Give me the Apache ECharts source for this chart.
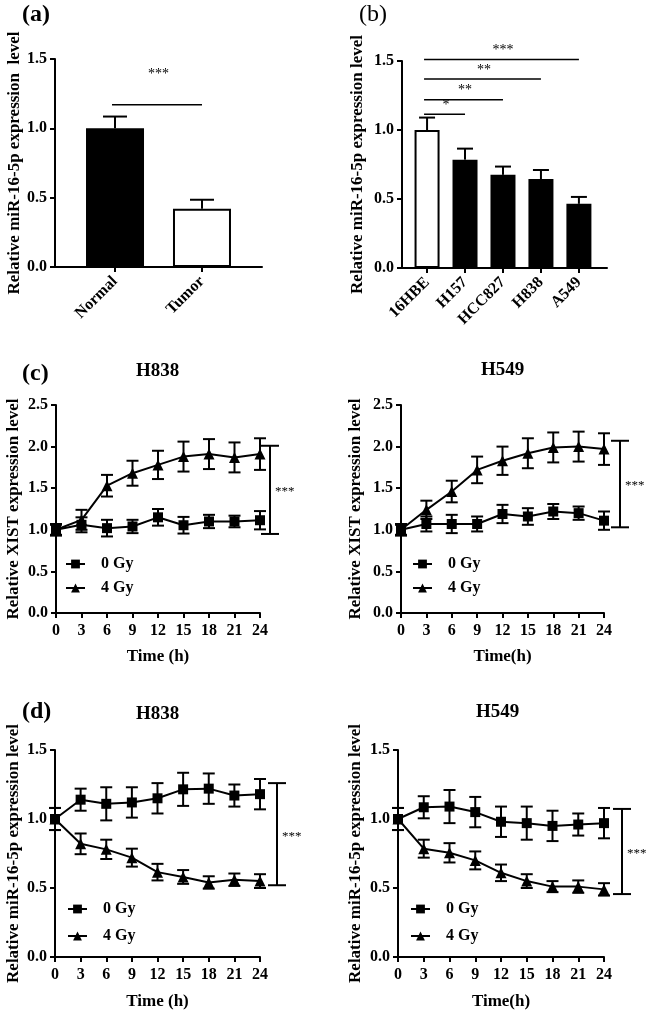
<!DOCTYPE html>
<html>
<head>
<meta charset="utf-8">
<script src="https://cdn.jsdelivr.net/npm/echarts@6/dist/echarts.min.js"></script>
<style>
html,body{margin:0;padding:0;background:#fff;}
#chart{width:650px;height:1015px;}
</style>
</head>
<body>
<div id="chart"></div>
<script>
// ---------- DATA ----------
const catsA = ['Normal', 'Tumor'];
const meanA = [1.00, 0.42];
const errA  = [0.085, 0.065];
const sigA  = [[0, 1, 1.17, 3]];          // [fromIdx, toIdx, y, stars]

const catsB = ['16HBE', 'H157', 'HCC827', 'H838', 'A549'];
const meanB = [1.00, 0.785, 0.675, 0.645, 0.465];
const errB  = [0.09, 0.08, 0.06, 0.065, 0.05];
const sigB  = [[0, 1, 1.115, 1], [0, 2, 1.22, 2], [0, 3, 1.37, 2], [0, 4, 1.51, 3]];

const hours = [0, 3, 6, 9, 12, 15, 18, 21, 24];

const xistH838_0Gy    = [1.00, 1.06, 1.02, 1.04, 1.15, 1.055, 1.10, 1.10, 1.115];
const xistH838_0GyErr = [0.07, 0.09, 0.10, 0.08, 0.10, 0.10, 0.08, 0.07, 0.11];
const xistH838_4Gy    = [1.00, 1.12, 1.53, 1.68, 1.78, 1.88, 1.91, 1.87, 1.91];
const xistH838_4GyErr = [0.06, 0.12, 0.13, 0.15, 0.17, 0.18, 0.18, 0.18, 0.19];
const xistH838_sig    = [[24, 0.95, 2.01, 3]];

const xistH549_0Gy    = [1.00, 1.07, 1.07, 1.07, 1.19, 1.16, 1.22, 1.20, 1.11];
const xistH549_0GyErr = [0.07, 0.09, 0.11, 0.09, 0.11, 0.10, 0.09, 0.08, 0.11];
const xistH549_4Gy    = [1.00, 1.24, 1.46, 1.72, 1.83, 1.92, 1.99, 2.00, 1.97];
const xistH549_4GyErr = [0.06, 0.11, 0.13, 0.16, 0.17, 0.18, 0.18, 0.18, 0.19];
const xistH549_sig    = [[24, 1.03, 2.07, 3]];

const mirH838_0Gy    = [1.00, 1.14, 1.11, 1.12, 1.15, 1.215, 1.22, 1.17, 1.18];
const mirH838_0GyErr = [0.08, 0.08, 0.12, 0.11, 0.11, 0.12, 0.11, 0.08, 0.11];
const mirH838_4Gy    = [1.00, 0.82, 0.78, 0.72, 0.615, 0.58, 0.54, 0.56, 0.55];
const mirH838_4GyErr = [0.08, 0.075, 0.07, 0.065, 0.06, 0.05, 0.045, 0.045, 0.05];
const mirH838_sig    = [[24, 0.52, 1.26, 3]];

const mirH549_0Gy    = [1.00, 1.085, 1.09, 1.05, 0.98, 0.97, 0.95, 0.96, 0.97];
const mirH549_0GyErr = [0.08, 0.08, 0.12, 0.11, 0.11, 0.12, 0.11, 0.08, 0.11];
const mirH549_4Gy    = [1.00, 0.785, 0.755, 0.70, 0.61, 0.55, 0.51, 0.51, 0.49];
const mirH549_4GyErr = [0.08, 0.065, 0.07, 0.065, 0.06, 0.05, 0.04, 0.045, 0.045];
const mirH549_sig    = [[24, 0.456, 1.073, 3]];

const yTitleMiR  = 'Relative miR-16-5p expression level';
const yTitleMiRa = 'Relative miR-16-5p expression  level';
const yTitleXIST = 'Relative XIST expression level';

// ---------- STYLE ----------
const FONT = '"Liberation Serif","Times New Roman",Times,serif';
const BLACK = '#000';
const chart = echarts.init(document.getElementById('chart'), null, {renderer: 'canvas'});

const labelStyle = {color: BLACK, fontFamily: FONT, fontWeight: 'bold', fontSize: 16};
const nameStyle = {color: BLACK, fontFamily: FONT, fontWeight: 'bold', fontSize: 17};
const lineSt = {color: BLACK, width: 2};

const grids = [
  {left: 55,  top: 59,  width: 207, height: 208},  // a
  {left: 402, top: 61,  width: 205, height: 207},  // b
  {left: 56,  top: 405, width: 204, height: 208},  // c H838
  {left: 401, top: 405, width: 203, height: 208},  // c H549
  {left: 55,  top: 750, width: 205, height: 207},  // d H838
  {left: 398, top: 750, width: 206, height: 207}   // d H549
].map(g => Object.assign({outerBoundsMode: 'none', containLabel: false}, g));

function yAxis(gi, max, name, gap) {
  return {
    type: 'value', gridIndex: gi, min: 0, max: max, interval: 0.5,
    name: name, nameLocation: 'middle', nameGap: gap, nameRotate: 90,
    nameTextStyle: nameStyle,
    axisLine: {show: true, onZero: false, lineStyle: lineSt},
    axisTick: {show: true, length: 5, lineStyle: lineSt},
    axisLabel: Object.assign({margin: 8, formatter: v => v.toFixed(1)}, labelStyle),
    splitLine: {show: false}
  };
}
function catXAxis(gi, cats, min, max) {
  const idx = cats.map((c, i) => i);
  return {
    type: 'value', gridIndex: gi, min: min, max: max,
    axisLine: {show: true, onZero: false, lineStyle: lineSt},
    axisTick: {show: true, length: 5, lineStyle: lineSt, customValues: idx},
    axisLabel: Object.assign({margin: 12, rotate: 45, customValues: idx,
      formatter: v => cats[Math.round(v)]}, labelStyle),
    splitLine: {show: false}
  };
}
function timeXAxis(gi, name, gap) {
  return {
    type: 'value', gridIndex: gi, min: 0, max: 24, interval: 3,
    name: name, nameLocation: 'middle', nameGap: gap, nameTextStyle: nameStyle,
    axisLine: {show: true, onZero: false, lineStyle: lineSt},
    axisTick: {show: true, length: 5, lineStyle: lineSt},
    axisLabel: Object.assign({margin: 10}, labelStyle),
    splitLine: {show: false}
  };
}

// error bars
function errSeries(gi, xs, mean, err, capHalf, upOnly) {
  return {
    type: 'custom', xAxisIndex: gi, yAxisIndex: gi, silent: true, z: 4,
    encode: {x: 0, y: 1},
    data: xs.map((x, k) => [x, mean[k], err[k]]),
    renderItem: function (params, api) {
      const x = api.value(0), m = api.value(1), e = api.value(2);
      const t = api.coord([x, m + e]);
      const b = api.coord([x, upOnly ? m : m - e]);
      const st = {stroke: BLACK, lineWidth: 2};
      const ch = [
        {type: 'line', shape: {x1: t[0], y1: t[1], x2: b[0], y2: b[1]}, style: st},
        {type: 'line', shape: {x1: t[0] - capHalf, y1: t[1], x2: t[0] + capHalf, y2: t[1]}, style: st}
      ];
      if (!upOnly) ch.push({type: 'line', shape: {x1: b[0] - capHalf, y1: b[1], x2: b[0] + capHalf, y2: b[1]}, style: st});
      return {type: 'group', children: ch};
    }
  };
}
// significance lines over bars
function sigSeries(gi, sig, gap) {
  return {
    type: 'custom', xAxisIndex: gi, yAxisIndex: gi, silent: true, z: 5,
    encode: {x: [0, 1], y: 2},
    data: sig,
    renderItem: function (params, api) {
      const p1 = api.coord([api.value(0), api.value(2)]);
      const p2 = api.coord([api.value(1), api.value(2)]);
      return {type: 'group', children: [
        {type: 'line', shape: {x1: p1[0] - 3, y1: p1[1], x2: p2[0], y2: p2[1]}, style: {stroke: BLACK, lineWidth: 1.5}},
        {type: 'text', x: (p1[0] + p2[0]) / 2, y: p1[1] - gap,
          style: {text: '*'.repeat(api.value(3)), fill: BLACK, font: '14px ' + FONT, align: 'center', verticalAlign: 'middle'}}
      ]};
    }
  };
}
// vertical bracket on right of time course
function bracketSeries(gi, sig, offset) {
  return {
    type: 'custom', xAxisIndex: gi, yAxisIndex: gi, silent: true, z: 5, clip: false,
    encode: {x: 0, y: [1, 2]},
    data: sig,
    renderItem: function (params, api) {
      const lo = api.coord([api.value(0), api.value(1)]);
      const hi = api.coord([api.value(0), api.value(2)]);
      const x = lo[0] + offset;
      const st = {stroke: BLACK, lineWidth: 2};
      return {type: 'group', children: [
        {type: 'line', shape: {x1: x, y1: lo[1], x2: x, y2: hi[1]}, style: st},
        {type: 'line', shape: {x1: x - 9, y1: lo[1], x2: x + 9, y2: lo[1]}, style: st},
        {type: 'line', shape: {x1: x - 9, y1: hi[1], x2: x + 9, y2: hi[1]}, style: st},
        {type: 'text', x: x + 5, y: (lo[1] + hi[1]) / 2 + 2,
          style: {text: '*'.repeat(api.value(3)), fill: BLACK, font: '13px ' + FONT, align: 'left', verticalAlign: 'middle'}}
      ]};
    }
  };
}
function lineSeries(gi, name, vals, symbol, size) {
  return {
    type: 'line', name: name, xAxisIndex: gi, yAxisIndex: gi, z: 6,
    data: hours.map((h, k) => [h, vals[k]]),
    symbol: symbol, symbolSize: size, showAllSymbol: true,
    itemStyle: {color: BLACK}, lineStyle: {color: BLACK, width: 2},
    emphasis: {disabled: true}
  };
}
function timePanel(gi, d0, e0, d4, e4, sig, offset) {
  return [
    errSeries(gi, hours, d0, e0, 6, false),
    errSeries(gi, hours, d4, e4, 6, false),
    lineSeries(gi, '0 Gy', d0, 'rect', 10),
    lineSeries(gi, '4 Gy', d4, 'triangle', 11),
    bracketSeries(gi, sig, offset)
  ];
}
function legendAt(left, top, gap) {
  return {
    left: left, top: top, orient: 'vertical', itemGap: gap, itemWidth: 19, itemHeight: 11,
    data: ['0 Gy', '4 Gy'], selectedMode: false, padding: 0,
    textStyle: {color: BLACK, fontFamily: FONT, fontWeight: 'bold', fontSize: 16, padding: [0, 0, 0, 11]}
  };
}
function titleAt(text, left, top, size, weight) {
  return {text: text, left: left, top: top, padding: 0,
    textStyle: {color: BLACK, fontFamily: FONT, fontSize: size, fontWeight: weight}};
}

const barColor = (colors) => (p) => colors[p.dataIndex];

const option = {
  animation: false,
  backgroundColor: '#fff',
  title: [
    titleAt('(a)', 22, 3, 24, 'bold'),
    titleAt('(b)', 359, 3, 24, 'normal'),
    titleAt('(c)', 22, 362, 24, 'bold'),
    titleAt('H838', 136, 362, 19, 'bold'),
    titleAt('H549', 481, 361, 19, 'bold'),
    titleAt('(d)', 22, 700, 24, 'bold'),
    titleAt('H838', 136, 705, 19, 'bold'),
    titleAt('H549', 476, 703, 19, 'bold')
  ],
  legend: [
    legendAt(65, 556, 8),
    legendAt(412, 556, 8),
    legendAt(67, 901, 11),
    legendAt(410, 901, 11)
  ],
  grid: grids,
  xAxis: [
    catXAxis(0, catsA, -0.69, 1.69),
    catXAxis(1, catsB, -0.66, 4.74),
    timeXAxis(2, 'Time (h)', 35),
    timeXAxis(3, 'Time(h)', 35),
    timeXAxis(4, 'Time (h)', 36),
    timeXAxis(5, 'Time(h)', 36)
  ],
  yAxis: [
    yAxis(0, 1.5, yTitleMiRa, 31),
    yAxis(1, 1.5, yTitleMiR, 36),
    yAxis(2, 2.5, yTitleXIST, 34),
    yAxis(3, 2.5, yTitleXIST, 37),
    yAxis(4, 1.5, yTitleMiR, 33),
    yAxis(5, 1.5, yTitleMiR, 34)
  ],
  series: [
    {type: 'bar', xAxisIndex: 0, yAxisIndex: 0, barWidth: 58, z: 3,
      data: meanA.map((v, i) => [i, v]),
      itemStyle: {color: barColor([BLACK, '#fff']), borderColor: BLACK, borderWidth: 2},
      emphasis: {disabled: true}},
    errSeries(0, catsA.map((c, i) => i), meanA, errA, 12, true),
    sigSeries(0, sigA, 30),
    {type: 'bar', xAxisIndex: 1, yAxisIndex: 1, barWidth: 25, z: 3,
      data: meanB.map((v, i) => [i, v]),
      itemStyle: {color: barColor(['#fff', BLACK, BLACK, BLACK, BLACK]), borderColor: BLACK, borderWidth: 2},
      emphasis: {disabled: true}},
    errSeries(1, catsB.map((c, i) => i), meanB, errB, 8, true),
    sigSeries(1, sigB, 9)
  ]
    .concat(timePanel(2, xistH838_0Gy, xistH838_0GyErr, xistH838_4Gy, xistH838_4GyErr, xistH838_sig, 10))
    .concat(timePanel(3, xistH549_0Gy, xistH549_0GyErr, xistH549_4Gy, xistH549_4GyErr, xistH549_sig, 16))
    .concat(timePanel(4, mirH838_0Gy, mirH838_0GyErr, mirH838_4Gy, mirH838_4GyErr, mirH838_sig, 17))
    .concat(timePanel(5, mirH549_0Gy, mirH549_0GyErr, mirH549_4Gy, mirH549_4GyErr, mirH549_sig, 18))
};
chart.setOption(option);
</script>
</body>
</html>
